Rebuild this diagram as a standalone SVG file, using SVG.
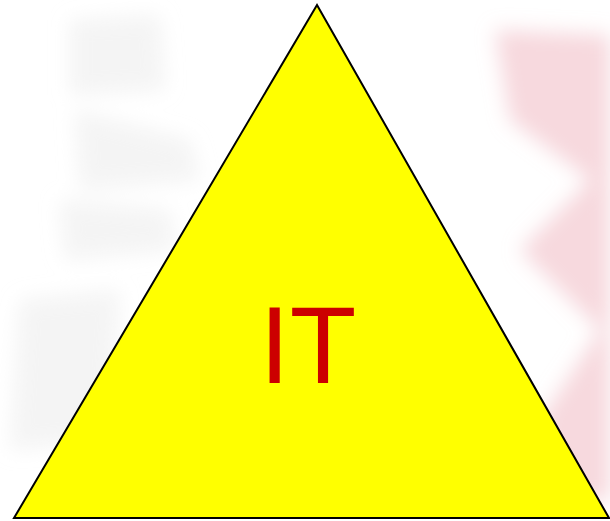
<svg xmlns="http://www.w3.org/2000/svg" width="610" height="521" viewBox="0 0 610 521">
<defs>
<filter id="blur" x="-30%" y="-30%" width="160%" height="160%"><feGaussianBlur stdDeviation="10"/></filter>
<style>
.bg-gray{fill:#e6e6e6;opacity:0.45}
.bg-pink{fill:#f2c0c8;opacity:0.6}
.tri{fill:#FFFF00;stroke:#000;stroke-width:2}
.lbl{font-family:"Liberation Sans",Arial,sans-serif;font-size:109px;fill:#CC0000}
</style>
</defs>
<rect width="610" height="521" fill="#fff"/>
<g id="background" filter="url(#blur)">
<path class="bg-gray" d="M70,20 L160,15 L165,90 L70,95 Z"/>
<path class="bg-gray" d="M75,110 L190,140 L200,180 L80,190 Z"/>
<path class="bg-gray" d="M60,200 L170,210 L175,250 L65,260 Z"/>
<path class="bg-gray" d="M20,300 L120,290 L110,440 L10,450 Z"/>
<path class="bg-pink" d="M495,30 L610,35 L610,500 L560,500 L540,420 L600,330 L520,250 L590,180 L510,120 Z"/>
</g>
<g id="node-it">
<polygon class="tri" points="317,5 14,518 609,518"/>
<text class="lbl" x="308" y="383" text-anchor="middle">IT</text>
</g>
<g id="connectors"/>
</svg>
